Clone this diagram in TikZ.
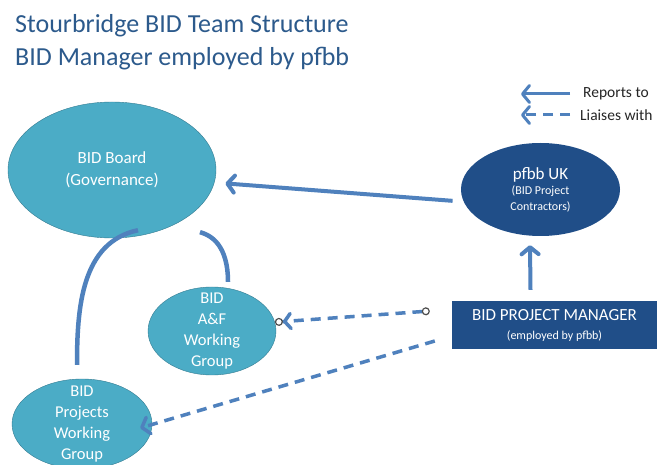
\documentclass[tikz,border=0pt]{standalone}
\usepackage{fontspec}
\setmainfont{Carlito}
\usetikzlibrary{shapes,arrows.meta}
\usetikzlibrary{calc}
\definecolor{titleblue}{RGB}{44,90,140}
\definecolor{tealfill}{RGB}{75,172,198}
\definecolor{tealline}{RGB}{52,124,146}
\definecolor{navy}{RGB}{32,78,136}
\definecolor{linkblue}{RGB}{79,129,189}
\tikzstyle{tealgroup}=[ellipse, draw=tealline, fill=tealfill, text=white, align=center, inner sep=0pt, font=\fontsize{16.5}{21}\selectfont]
\tikzstyle{reports}=[draw=linkblue, line width=4pt, ->]
\tikzstyle{liaises}=[draw=linkblue, line width=3.5pt, dash pattern=on 10pt off 7pt]
\tikzstyle{linkline}=[draw=linkblue, line width=4.5pt]
\tikzstyle{legendtext}=[anchor=west, inner sep=0pt, text=black!85, font=\fontsize{15.5}{18}\selectfont]

\begin{document}
\begin{tikzpicture}[x=1pt, y=-1pt, >={Straight Barb[round,length=7pt,width=17pt]}]
  \fill[white] (0,0) rectangle (662,465);
  \useasboundingbox (0,0) rectangle (662,465);
  %\draw [help lines, step=20] (0,0) grid (662,465);

  \node[anchor=north west, inner sep=0pt, align=left, text=titleblue, font=\fontsize{26}{33}\selectfont] (title) at (15,14)
    {Stourbridge BID Team Structure\\BID Manager employed by pfbb};

  \node[legendtext] (rep) at (583,94) {Reports to};
  \node[legendtext] (lia) at (580,115) {Liaises with};
  \draw[reports, line width=3pt] ([xshift=-13pt]rep.west) -- ++(-49pt,0);
  \draw[liaises, line width=3pt, ->] ([xshift=-10pt]lia.west) -- ++(-49pt,0);

  \node[tealgroup, minimum width=208, minimum height=136, font=\fontsize{17}{22}\selectfont] (board) at (112,170) {BID Board\\(Governance)};
  \node[ellipse, fill=navy, text=white, align=center, inner sep=0pt, minimum width=159, minimum height=93, font=\fontsize{12}{15.5}\selectfont] (pfbb) at (540.5,189.5)
    {{\fontsize{17}{19}\selectfont pfbb UK}\\(BID Project\\Contractors)};
  \node[rectangle, fill=navy, text=white, align=center, minimum width=205, minimum height=48, font=\fontsize{12}{19}\selectfont] (manager) at (554.5,325)
    {{\fontsize{17}{19}\selectfont BID PROJECT MANAGER}\\(employed by pfbb)};
  \node[tealgroup, minimum width=128, minimum height=88, inner ysep=-14pt] (afgroup) at (212,331) {BID\\A\&F\\Working\\Group};
  \node[tealgroup, minimum width=140, minimum height=90, inner ysep=-14pt] (projgroup) at (82,424) {BID\\Projects\\Working\\Group};

  \draw[linkline] ([xshift=26pt,yshift=8pt]board.south) to[out=192,in=90] ([xshift=-5pt,yshift=14pt]projgroup.north);
  \draw[linkline] ([xshift=88pt,yshift=6pt]board.south) to[out=-15,in=90] ([xshift=16pt,yshift=5pt]afgroup.north);

  \draw[reports, shorten <=11pt, shorten >=11pt] (pfbb.189) -- (board.353);
  \draw[reports] ([xshift=-24pt,yshift=11pt]manager.north) -- ([xshift=-10.5pt,yshift=-9pt]pfbb.south);

  \draw[liaises, {Circle[fill=white, color=black!70, line width=1.2pt, length=8pt, width=8pt]}-{Straight Barb[round,length=6pt,width=15pt] Circle[fill=white, color=black!70, line width=1.2pt, length=8pt, width=8pt]}]
    ([xshift=-22pt,yshift=14pt]manager.west) -- (afgroup.8);
  \draw[liaises, ->] ([xshift=-17pt,yshift=-16pt]manager.west) -- ([xshift=-12pt,yshift=-4pt]projgroup.east);
\end{tikzpicture}
\end{document}
